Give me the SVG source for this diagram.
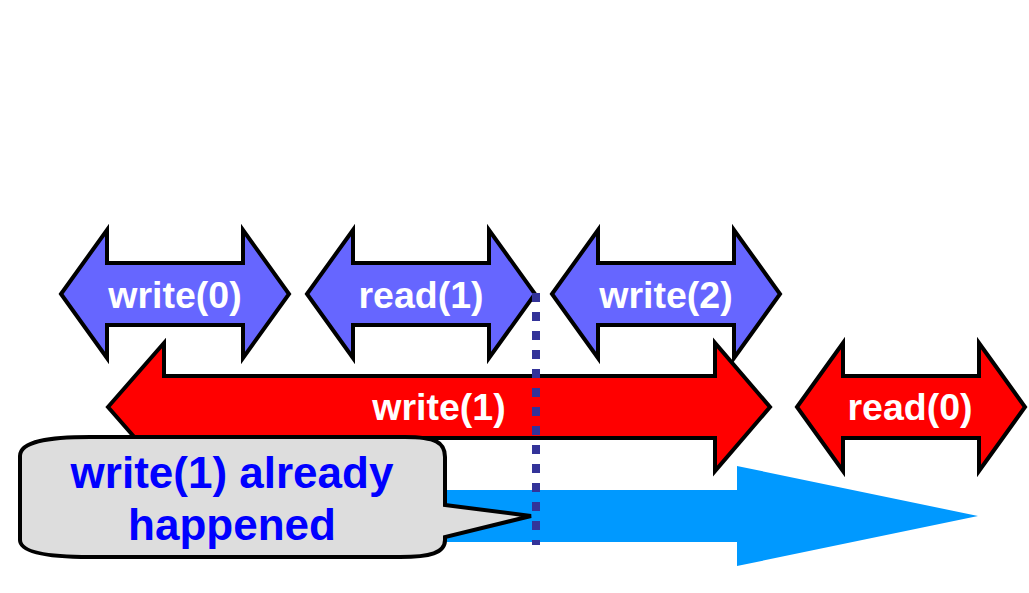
<svg xmlns="http://www.w3.org/2000/svg" width="1029" height="593" viewBox="0 0 1029 593">
<style>
.arr{stroke:#000;stroke-width:4;stroke-linejoin:miter}
.blue{fill:#6666FF}
.red{fill:#FF0000}
.lbl{font-family:"Liberation Sans",Arial,sans-serif;font-weight:bold;font-size:37.5px;fill:#FFFFFF;text-anchor:middle}
.call{font-family:"Liberation Sans",Arial,sans-serif;font-weight:bold;font-size:44px;fill:#0000FF;text-anchor:middle}
</style>
<defs>
<path id="dbl" d="M0,64 L46,0 V33 H182 V0 L228,64 L182,128 V95 H46 V128 Z"/>
</defs>
<rect width="1029" height="593" fill="#FFFFFF"/>
<g id="connectors">
<path id="timeline" d="M400,490 H737 V466 L978,516 L737,566 V542 H400 Z" fill="#0099FF"/>
</g>
<g id="write0">
<use href="#dbl" class="arr blue" x="61" y="230"/>
<text class="lbl" x="175" y="308">write(0)</text>
</g>
<g id="read1">
<use href="#dbl" class="arr blue" x="307" y="230"/>
<text class="lbl" x="421" y="308">read(1)</text>
</g>
<g id="write2">
<use href="#dbl" class="arr blue" x="552" y="230"/>
<text class="lbl" x="666" y="308">write(2)</text>
</g>
<g id="write1">
<path class="arr red" d="M108,407 L164,343 V376 H715 V343 L770,407 L715,471 V438 H164 V471 Z"/>
<text class="lbl" x="439" y="420">write(1)</text>
</g>
<g id="read0">
<path class="arr red" d="M797,407 L843,343 V376 H979 V343 L1025,407 L979,471 V438 H843 V471 Z"/>
<text class="lbl" x="910" y="420">read(0)</text>
</g>
<g id="callout">
<path class="arr" fill="#DDDDDD" d="M20,456 C20,441 50,437 90,437 H405 C435,437 445,442 445,457 V505 L531,516 L445,537 V540 C445,553 430,557 400,557 H90 C50,557 20,553 20,540 Z"/>
<text class="call" x="232" y="488">write(1) already</text>
<text class="call" x="232" y="540">happened</text>
</g>
<g id="marker-line">
<line x1="536" y1="293" x2="536" y2="545" stroke="#333399" stroke-width="8" stroke-dasharray="9 10"/>
</g>
</svg>
